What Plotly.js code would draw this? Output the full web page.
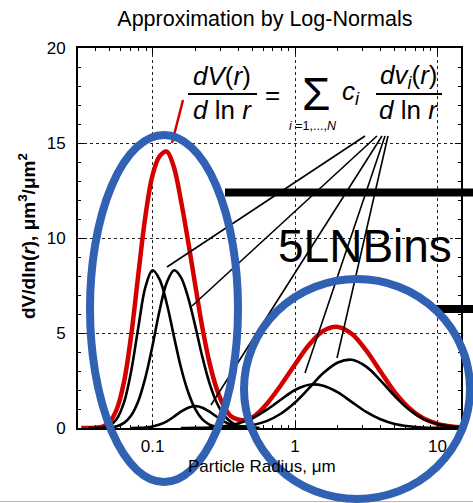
<!DOCTYPE html>
<html>
<head>
<meta charset="utf-8">
<script src="https://cdn.plot.ly/plotly-3.0.1.min.js"></script>
<style>html,body{margin:0;padding:0;background:#fff;}#chart{width:473px;height:503px;}</style>
</head>
<body>
<div id="chart"></div>
<script>
// Particle radius (µm) and dV/dln(r) values
const rMode1 = [0.0355,0.0398,0.0447,0.0501,0.0562,0.0631,0.0708,0.0794,0.0891,0.100,0.112,0.126,0.141,0.158,0.178,0.200,0.224,0.251,0.282,0.316,0.355];
const vMode1 = [0,0.01,0.03,0.14,0.49,1.35,2.99,5.27,7.41,8.30,7.82,6.54,4.86,3.21,1.88,0.98,0.45,0.18,0.07,0.02,0];

const rMode2 = [0.0447,0.0501,0.0562,0.0631,0.0708,0.0794,0.0891,0.100,0.112,0.126,0.142,0.158,0.178,0.200,0.224,0.251,0.282,0.316,0.355,0.398,0.447,0.501,0.562];
const vMode2 = [0,0.03,0.09,0.27,0.66,1.41,2.65,4.33,6.17,7.66,8.30,7.94,6.85,5.33,3.73,2.36,1.34,0.69,0.32,0.13,0.05,0.02,0];

const rMode3 = [0.0708,0.0794,0.0891,0.100,0.112,0.126,0.141,0.158,0.178,0.200,0.224,0.251,0.282,0.316,0.355,0.398,0.447,0.501,0.562];
const vMode3 = [0,0.01,0.03,0.08,0.18,0.35,0.59,0.86,1.07,1.15,1.07,0.86,0.59,0.35,0.18,0.08,0.03,0.01,0];

const rMode4 = [0.158,0.200,0.251,0.316,0.398,0.501,0.631,0.794,1.00,1.26,1.58,2.00,2.51,3.16,3.98,5.01,6.31,7.94,10.0,12.6];
const vMode4 = [0,0.01,0.03,0.09,0.24,0.51,0.95,1.49,2.00,2.28,2.22,1.87,1.36,0.85,0.46,0.21,0.09,0.03,0.01,0];

const rMode5 = [0.251,0.316,0.398,0.501,0.631,0.794,1.00,1.26,1.58,2.00,2.51,3.16,3.98,5.01,6.31,7.94,10.0,12.6,14.6];
const vMode5 = [0,0.02,0.06,0.15,0.36,0.75,1.34,2.11,2.89,3.45,3.59,3.23,2.51,1.68,0.97,0.48,0.21,0.08,0.04];

const rTotal = [0.0316,0.0355,0.0398,0.0447,0.0501,0.0562,0.0631,0.0708,0.0794,0.0891,0.100,0.112,0.126,0.141,0.158,0.178,0.200,0.224,0.251,0.282,0.316,0.355,0.398,0.447,0.501,0.562,0.631,0.794,1.00,1.26,1.58,2.00,2.51,3.16,3.98,5.01,6.31,7.94,10.0,12.6,14.6];
const vTotal = [0,0,0.02,0.08,0.33,1.00,2.43,4.87,8.05,11.14,13.30,14.30,14.55,13.75,12.01,9.80,7.47,5.27,3.44,2.07,1.17,0.62,0.45,0.42,0.55,0.85,1.25,2.24,3.34,4.39,5.11,5.32,4.95,4.08,2.97,1.89,1.06,0.51,0.22,0.08,0.04];

const xTickVals = [0.1, 1, 10];
const xTickText = ['0.1', '1', '10'];
const yTickVals = [0, 5, 10, 15, 20];
const xMinorVals = [0.04,0.05,0.06,0.07,0.08,0.09,0.2,0.3,0.4,0.5,0.6,0.7,0.8,0.9,2,3,4,5,6,7,8,9];

const FONT = 'Liberation Sans, Arial, Helvetica, sans-serif';
const RED = '#d40000';
const BLUE = '#3061b3';

const blackLine = {color:'#000', width:2.6, shape:'spline', smoothing:1};
const traces = [
  {x:rTotal, y:vTotal, mode:'lines', line:{color:RED, width:4.5, shape:'spline', smoothing:1}, hoverinfo:'skip'},
  {x:rMode1, y:vMode1, mode:'lines', line:blackLine, hoverinfo:'skip'},
  {x:rMode2, y:vMode2, mode:'lines', line:blackLine, hoverinfo:'skip'},
  {x:rMode3, y:vMode3, mode:'lines', line:blackLine, hoverinfo:'skip'},
  {x:rMode4, y:vMode4, mode:'lines', line:blackLine, hoverinfo:'skip'},
  {x:rMode5, y:vMode5, mode:'lines', line:blackLine, hoverinfo:'skip'}
];

// pixel -> paper helpers for decorations (plot area: x 78..461, y 48..428)
const PX = p => (p - 78) / 383;
const PY = p => (428 - p) / 380;

function seg(x0,y0,x1,y1,color,width){
  return {type:'line', xref:'paper', yref:'paper', x0:PX(x0), y0:PY(y0), x1:PX(x1), y1:PY(y1), line:{color:color, width:width}};
}
function ann(text, x, y, size, extra){
  return Object.assign({text:text, x:PX(x), y:PY(y), xref:'paper', yref:'paper', showarrow:false,
    xanchor:'center', yanchor:'middle', font:{family:FONT, size:size, color:'#000'}}, extra||{});
}

const shapes = [
  // pointer lines from formula to modes
  seg(365,136,167,267,'#000',1.6),
  seg(377,136,192,306,'#000',1.6),
  seg(382,136,211,405,'#000',1.6),
  seg(385,136,305,373,'#000',1.6),
  seg(388,136,337,358,'#000',1.6),
  seg(183,100,172,143,RED,2.5),
  // fraction bars
  seg(188,94,257,94,'#000',2),
  seg(376,94,442,94,'#000',2),
  // thick black bars
  {type:'rect', xref:'paper', yref:'paper', x0:PX(225), x1:PX(480), y0:PY(196.5), y1:PY(188.5), fillcolor:'#000', line:{width:0}},
  {type:'rect', xref:'paper', yref:'paper', x0:PX(436), x1:PX(480), y0:PY(313), y1:PY(305), fillcolor:'#000', line:{width:0}},
  // bottom pink rule
  seg(0,501.5,473,501.5,'#f2a0a0',1.2),
  // blue ellipses
  {type:'circle', xref:'paper', yref:'paper', x0:PX(90), x1:PX(238), y0:PY(482), y1:PY(135), line:{color:BLUE, width:8}},
  {type:'circle', xref:'paper', yref:'paper', x0:PX(244), x1:PX(470), y0:PY(499), y1:PY(279), line:{color:BLUE, width:8}}
];

const annotations = [
  ann('<i>dV</i>(<i>r</i>)', 222, 76, 26),
  ann('<i>d</i> ln <i>r</i>', 222, 110, 26),
  ann('=', 272, 95, 26),
  ann('\u03A3', 316, 94, 46),
  ann('<i>i</i> =1,...,<i>N</i>', 313, 126, 12.5),
  ann('<i>c<sub>i</sub></i>', 351, 92, 26),
  ann('<i>dv<sub>i</sub></i>(<i>r</i>)', 409, 76, 26),
  ann('<i>d</i> ln <i>r</i>', 408, 110, 26),
  ann('5LNBins', 365, 246, 46),
  ann('Particle Radius, \u03BCm', 262, 466, 17),
  ann('<b>dV/dln(<i>r</i>), \u03BCm<sup>3</sup>/\u03BCm<sup>2</sup></b>', 27, 236, 19, {textangle:-90})
];

const axisCommon = {
  showline:true, linecolor:'#000', linewidth:2, mirror:'allticks',
  ticks:'inside', ticklen:6, tickwidth:1, tickcolor:'#000',
  showgrid:true, gridcolor:'#222', gridwidth:1, griddash:'dot',
  zeroline:false, tickfont:{family:FONT, size:17, color:'#000'}
};

const layout = {
  width:473, height:503,
  margin:{l:78, r:12, t:48, b:75},
  paper_bgcolor:'#fff', plot_bgcolor:'#fff',
  showlegend:false,
  title:{text:'Approximation by Log-Normals', x:0.56, xanchor:'center', y:1-18/503, yanchor:'middle', font:{family:FONT, size:21.5, color:'#000'}},
  xaxis:Object.assign({}, axisCommon, {
    type:'log', range:[-1.523, 1.165], tickmode:'array', tickvals:xTickVals, ticktext:xTickText,
    ticklabelstandoff:2,
    minor:{tickmode:'array', tickvals:xMinorVals, ticks:'inside', ticklen:3, tickcolor:'#000', showgrid:false}
  }),
  yaxis:Object.assign({}, axisCommon, {
    range:[0, 20], tickmode:'array', tickvals:yTickVals,
    ticklabelstandoff:7,
    minor:{dtick:1, ticks:'inside', ticklen:3, tickcolor:'#000', showgrid:false}
  }),
  shapes:shapes,
  annotations:annotations
};

Plotly.newPlot('chart', traces, layout, {staticPlot:true, displayModeBar:false});
</script>
</body>
</html>
